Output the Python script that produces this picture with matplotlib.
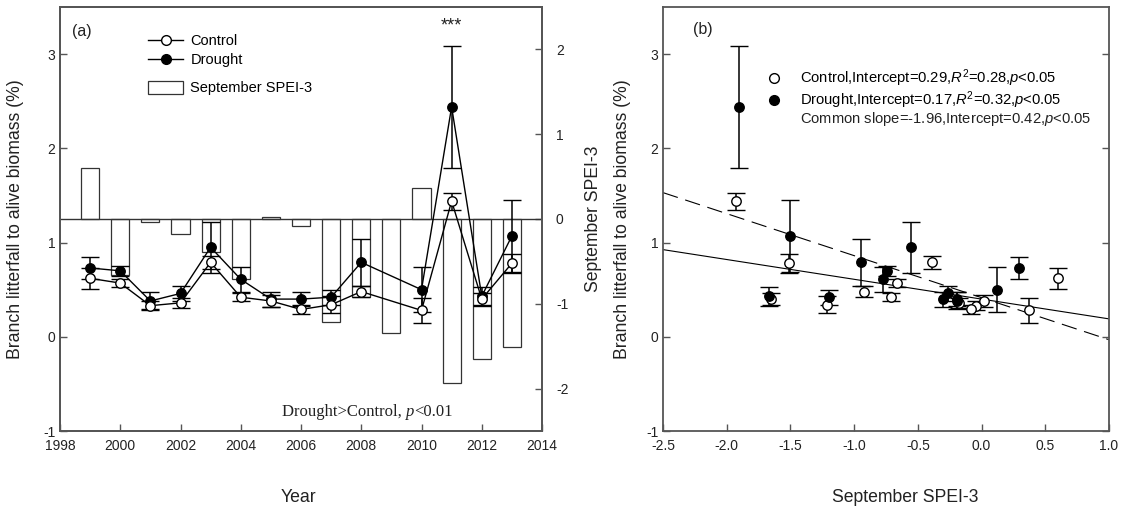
import matplotlib
matplotlib.use("Agg")
import matplotlib.pyplot as plt
import numpy as np
from matplotlib.lines import Line2D
from matplotlib.patches import Patch
from matplotlib.ticker import FormatStrFormatter, MultipleLocator

plt.rcParams["font.family"] = ["Liberation Sans", "DejaVu Sans"]
plt.rcParams["mathtext.fontset"] = "custom"
plt.rcParams["mathtext.rm"] = "Liberation Sans"
plt.rcParams["mathtext.it"] = "Liberation Sans:italic"
plt.rcParams["axes.unicode_minus"] = False

# ---- data ----------------------------------------------------------------
spei_years = [1999, 2000, 2001, 2002, 2003, 2004, 2005, 2006, 2007, 2008,
              2009, 2010, 2011, 2012, 2013]
spei_sep = [0.60, -0.66, -0.04, -0.18, -0.39, -0.71, 0.02, -0.08, -1.21, -0.92,
            -1.34, 0.37, -1.93, -1.65, -1.51]

litter_years = [1999, 2000, 2001, 2002, 2003, 2004, 2005, 2006, 2007, 2008,
                2010, 2011, 2012, 2013]
control = [0.62, 0.57, 0.33, 0.36, 0.79, 0.42, 0.38, 0.29, 0.34, 0.48,
           0.28, 1.44, 0.40, 0.78]
control_se = [0.11, 0.04, 0.05, 0.05, 0.07, 0.04, 0.06, 0.05, 0.09, 0.06,
              0.13, 0.09, 0.06, 0.10]
drought = [0.73, 0.70, 0.38, 0.46, 0.95, 0.61, 0.40, 0.40, 0.42, 0.79,
           0.50, 2.44, 0.43, 1.07]
drought_se = [0.12, 0.05, 0.09, 0.08, 0.27, 0.13, 0.08, 0.07, 0.08, 0.25,
              0.24, 0.65, 0.10, 0.38]

# SPEI-3 experienced by each plot type (September), used on panel (b)
spei_control = [s for y, s in zip(spei_years, spei_sep) if y in litter_years]
spei_drought = [0.29, -0.74, -0.19, -0.26, -0.55, -0.77, -0.30, -0.19, -1.20,
                -0.95, 0.12, -1.90, -1.67, -1.50]

# fitted regression lines (intercept, slope)
fit_solid = (0.40, -0.21)
fit_dashed = (0.415, -0.446)

# ---- style ---------------------------------------------------------------
SPINE = "#555555"
TXT = "#222222"
FS_TICK = 10
FS_LAB = 12.7

fig = plt.figure(figsize=(11.22, 5.08), dpi=100)
W, H = 1122, 508
ax_a = fig.add_axes([60 / W, 1 - 431 / H, 482 / W, 424 / H])
ax_b = fig.add_axes([663 / W, 1 - 431 / H, 446 / W, 424 / H])


def style_axes(ax):
    for s in ax.spines.values():
        s.set_color(SPINE)
        s.set_linewidth(1.3)
    ax.tick_params(direction="in", length=5, width=1.0, color=SPINE,
                   labelsize=FS_TICK, labelcolor=TXT)


err_kw = dict(capsize=6.5, capthick=1.3, elinewidth=1.1, markersize=6.8,
              markeredgewidth=1.0, color="black")

# ---- panel (a) -----------------------------------------------------------
ax_s = ax_a.twinx()
ax_s.bar(spei_years, spei_sep, width=0.6, color="white", edgecolor="#333333",
         linewidth=0.9)
ax_s.axhline(0, color="#333333", linewidth=1.0)
ax_s.set_ylim(-2.5, 2.5)
ax_s.yaxis.set_major_locator(MultipleLocator(1))
ax_a.set_zorder(ax_s.get_zorder() + 1)
ax_a.patch.set_visible(False)

ax_a.errorbar(litter_years, drought, yerr=drought_se, fmt="-o",
              markerfacecolor="black", linewidth=1.0, **err_kw)
ax_a.errorbar(litter_years, control, yerr=control_se, fmt="-o",
              markerfacecolor="white", linewidth=1.0, **err_kw)

ax_a.set_xlim(1998, 2014)
ax_a.set_ylim(-1, 3.5)
ax_a.set_xticks(np.arange(1998, 2015, 2))
ax_a.set_yticks([-1, 0, 1, 2, 3])
style_axes(ax_a)
style_axes(ax_s)
ax_a.tick_params(axis="x", pad=6)
ax_s.tick_params(axis="y", pad=10)

ax_a.set_xlabel("Year", fontsize=FS_LAB, color=TXT)
ax_a.xaxis.set_label_coords(0.494, -0.137)
ax_a.set_ylabel("Branch litterfall to alive biomass (%)", fontsize=FS_LAB, color=TXT)
ax_a.yaxis.set_label_coords(-0.075, 0.5)
ax_s.set_ylabel("September SPEI-3", fontsize=FS_LAB, color=TXT, rotation=90)
ax_s.yaxis.set_label_coords(1.089, 0.5)

ax_a.text(0.046, 0.943, "(a)", transform=ax_a.transAxes, fontsize=11.5,
          ha="center", va="center", color=TXT)
ax_a.text(2011, 3.3, "***", fontsize=13, ha="center", va="center", color=TXT)

leg1 = ax_a.legend(
    handles=[Line2D([], [], color="black", lw=1.0, marker="o", markersize=7,
                    markerfacecolor="white"),
             Line2D([], [], color="black", lw=1.0, marker="o", markersize=7,
                    markerfacecolor="black")],
    labels=["Control", "Drought"], loc="upper left",
    bbox_to_anchor=(0.183, 0.936), frameon=False, fontsize=10.5,
    handlelength=2.4, handletextpad=0.5, labelspacing=0.35,
    borderpad=0, borderaxespad=0)
ax_a.add_artist(leg1)
ax_a.legend(handles=[Patch(facecolor="white", edgecolor="#333333", lw=0.9)],
            labels=["September SPEI-3"], loc="upper left",
            bbox_to_anchor=(0.183, 0.826), frameon=False, fontsize=10.5,
            handlelength=2.4, handleheight=1.0, handletextpad=0.5,
            borderpad=0, borderaxespad=0)

# "Drought>Control, p<0.01" in a serif face with italic p
t1 = ax_a.text(0.46, 0.045, "Drought>Control, ", transform=ax_a.transAxes,
               fontsize=12, family="Liberation Serif", va="center", color=TXT)
t2 = ax_a.annotate("p", xy=(1, 0), xycoords=t1, fontsize=12,
                   family="Liberation Serif", style="italic", va="bottom",
                   color=TXT)
ax_a.annotate("<0.01", xy=(1, 0), xycoords=t2, fontsize=12,
              family="Liberation Serif", va="bottom", color=TXT)

# ---- panel (b) -----------------------------------------------------------
xs = np.array([-2.5, 1.0])
ax_b.plot(xs, fit_solid[0] + fit_solid[1] * xs, color="black", lw=0.8, zorder=1)
ax_b.plot(xs, fit_dashed[0] + fit_dashed[1] * xs, color="black", lw=0.8,
          dashes=(14, 7), zorder=1)

ax_b.errorbar(spei_control, control, yerr=control_se, fmt="o",
              markerfacecolor="white", zorder=3, **err_kw)
ax_b.errorbar(spei_drought, drought, yerr=drought_se, fmt="o",
              markerfacecolor="black", zorder=3, **err_kw)

ax_b.set_xlim(-2.5, 1.0)
ax_b.set_ylim(-1, 3.5)
ax_b.set_xticks(np.arange(-2.5, 1.01, 0.5))
ax_b.xaxis.set_major_formatter(FormatStrFormatter("%.1f"))
ax_b.set_yticks([-1, 0, 1, 2, 3])
style_axes(ax_b)
ax_b.tick_params(axis="y", right=True, labelright=False)
ax_b.tick_params(axis="x", pad=6)

ax_b.set_xlabel("September SPEI-3", fontsize=FS_LAB, color=TXT)
ax_b.xaxis.set_label_coords(0.543, -0.137)
ax_b.set_ylabel("Branch litterfall to alive biomass (%)", fontsize=FS_LAB, color=TXT)
ax_b.yaxis.set_label_coords(-0.072, 0.5)
ax_b.text(0.09, 0.946, "(b)", transform=ax_b.transAxes, fontsize=11.5,
          ha="center", va="center", color=TXT)

FS_STAT = 10.6
leg_b = ax_b.legend(
    handles=[Line2D([], [], ls="none", marker="o", markersize=7,
                    markerfacecolor="white", markeredgecolor="black"),
             Line2D([], [], ls="none", marker="o", markersize=7,
                    markerfacecolor="black", markeredgecolor="black")],
    labels=[r"Control,Intercept=0.29,$R^2$=0.28,$p$<0.05",
            r"Drought,Intercept=0.17,$R^2$=0.32,$p$<0.05"],
    loc="upper left", bbox_to_anchor=(0.228, 0.857), frameon=False,
    fontsize=FS_STAT, handlelength=1.2, handletextpad=1.2, labelspacing=0.0,
    borderpad=0, borderaxespad=0)
# the common-slope line sits right under the drought entry; drawn after the
# legend so the legend text position is already laid out
ax_b.annotate(r"Common slope=-1.96,Intercept=0.42,$p$<0.05",
              xy=(0, 0), xycoords=leg_b.get_texts()[1], xytext=(0, 0.5),
              textcoords="offset points", va="top", fontsize=FS_STAT,
              color=TXT, zorder=10, annotation_clip=False)

fig.savefig("out.png", dpi=100)
